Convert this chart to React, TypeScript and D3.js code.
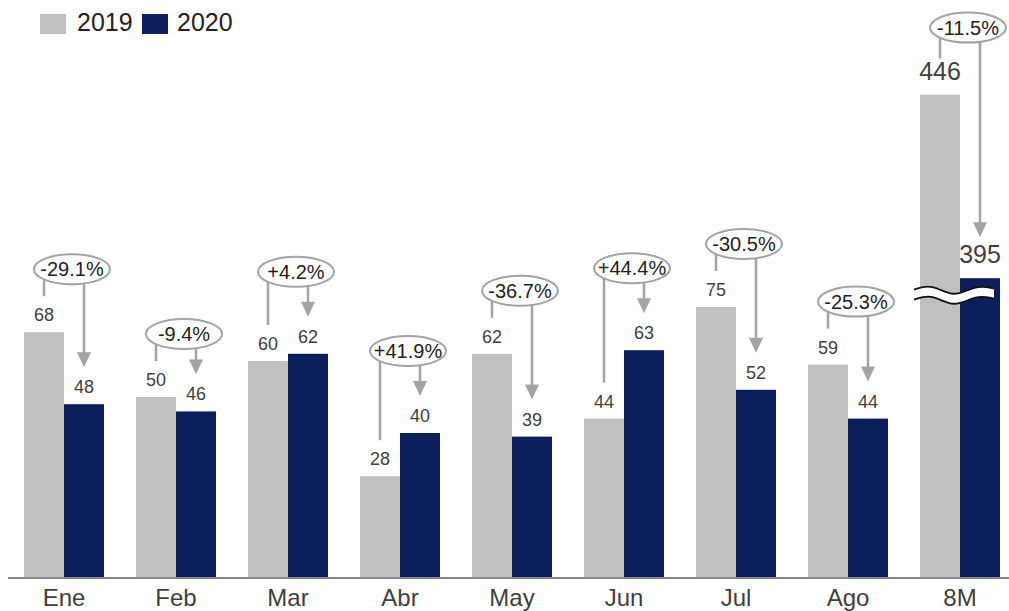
import React from 'react';
import * as d3 from 'd3';

// data
const months = ['Ene', 'Feb', 'Mar', 'Abr', 'May', 'Jun', 'Jul', 'Ago', '8M'];
const values2019 = [68, 50, 60, 28, 62, 44, 75, 59, 446];
const values2020 = [48, 46, 62, 40, 39, 63, 52, 44, 395];
const changes = ['-29.1%', '-9.4%', '+4.2%', '+41.9%', '-36.7%', '+44.4%', '-30.5%', '-25.3%', '-11.5%'];
const series = ['2019', '2020'];

const W = 1009;
const H = 611;
const baseY = 577;
// broken axis for the cumulative column
const breakGap = 312;
const breakAt = 79;

const GRAY = '#c0c0c0';
const NAVY = '#0a1f5c';
const LINE = '#a3a3a3';
const TXT = '#404040';
const FONT = '"Liberation Sans", Arial, sans-serif';

export default function App() {
  const x = d3.scaleBand().domain(months).range([8, 1016]).padding(0);
  const xs = d3.scaleBand().domain(series).range([0, x.bandwidth()]).paddingInner(0).paddingOuter(0.4);
  const yLin = d3.scaleLinear().domain([0, 100]).range([baseY, baseY - 360]);
  const y = (v: number) => (v > breakAt + breakGap ? yLin(v - breakGap) : yLin(v));

  const bw = xs.bandwidth();
  const rx = 38;
  const ry = 15;

  const breakY = yLin(breakAt);
  const x8 = x('8M') as number;
  const wave = d3.line().curve(d3.curveBasis);
  const wavePts = (dy: number): [number, number][] => [
    [x8 + 10, breakY - 3 + dy],
    [x8 + 28, breakY - 9 + dy],
    [x8 + 50, breakY + 6 + dy],
    [x8 + 72, breakY - 8 + dy],
    [x8 + 90, breakY - 4 + dy],
  ];

  return (
    <svg width={W} height={H} style={{ position: 'absolute', left: 0, top: 0 }}>
      <rect width={W} height={H} fill="#fff" />

      {/* legend */}
      <rect x={40} y={14} width={26} height={20} fill={GRAY} />
      <text x={77} y={31} fontSize={25} fontFamily={FONT} fill="#222">2019</text>
      <rect x={142} y={14} width={26} height={20} fill={NAVY} />
      <text x={177} y={31} fontSize={25} fontFamily={FONT} fill="#222">2020</text>

      {months.map((m, i) => {
        const a = values2019[i];
        const b = values2020[i];
        const gx = x(m) as number;
        const xa = gx + (xs('2019') as number);
        const xb = gx + (xs('2020') as number);
        const big = m === '8M';
        const fs = big ? 25 : 18;
        const labGap = big ? 15 : 11;
        const cx = gx + x.bandwidth() / 2 + 8;
        const cy = y(Math.max(a, b)) - (a > b ? (big ? 67 : 63) : 82);
        const lineEnd = y(a) - (big ? 36 : 36);
        const tip = y(b) - (big ? 41 : 37);
        const ca = xa + bw / 2;
        const cb = xb + bw / 2;
        return (
          <g key={m}>
            <rect x={xa} y={y(a)} width={bw} height={baseY - y(a)} fill={GRAY} />
            <rect x={xb} y={y(b)} width={bw} height={baseY - y(b)} fill={NAVY} />
            <text x={ca} y={y(a) - labGap} textAnchor="middle" fontSize={fs} fontFamily={FONT} fill={TXT}>{a}</text>
            <text x={cb} y={y(b) - labGap} textAnchor="middle" fontSize={fs} fontFamily={FONT} fill={TXT}>{b}</text>
            <line x1={ca} x2={ca} y1={cy} y2={lineEnd} stroke={LINE} strokeWidth={2.5} />
            <line x1={cb} x2={cb} y1={cy} y2={tip - 14} stroke={LINE} strokeWidth={2.5} />
            <path d={`M${cb - 7},${tip - 15}L${cb + 7},${tip - 15}L${cb},${tip}Z`} fill={LINE} />
            <ellipse cx={cx} cy={cy} rx={rx} ry={ry} fill="#fff" stroke={LINE} strokeWidth={2} />
            <text x={cx} y={cy + 7} textAnchor="middle" fontSize={20} fontFamily={FONT} fill="#222">{changes[i]}</text>
            <text x={gx + x.bandwidth() / 2} y={606} textAnchor="middle" fontSize={24} fontFamily={FONT} fill={TXT}>{m}</text>
          </g>
        );
      })}

      {/* axis break on the 8M column */}
      <path
        d={`${wave(wavePts(0))}L${x8 + 90},${breakY + 7}${(wave(wavePts(10).reverse()) as string).replace('M', 'L')}Z`}
        fill="#fff"
      />
      <path d={wave(wavePts(0)) as string} fill="none" stroke="#111" strokeWidth={1.8} />
      <path d={wave(wavePts(10)) as string} fill="none" stroke="#111" strokeWidth={1.8} />

      <line x1={8} x2={W} y1={baseY + 1} y2={baseY + 1} stroke="#888" strokeWidth={2} />
    </svg>
  );
}
